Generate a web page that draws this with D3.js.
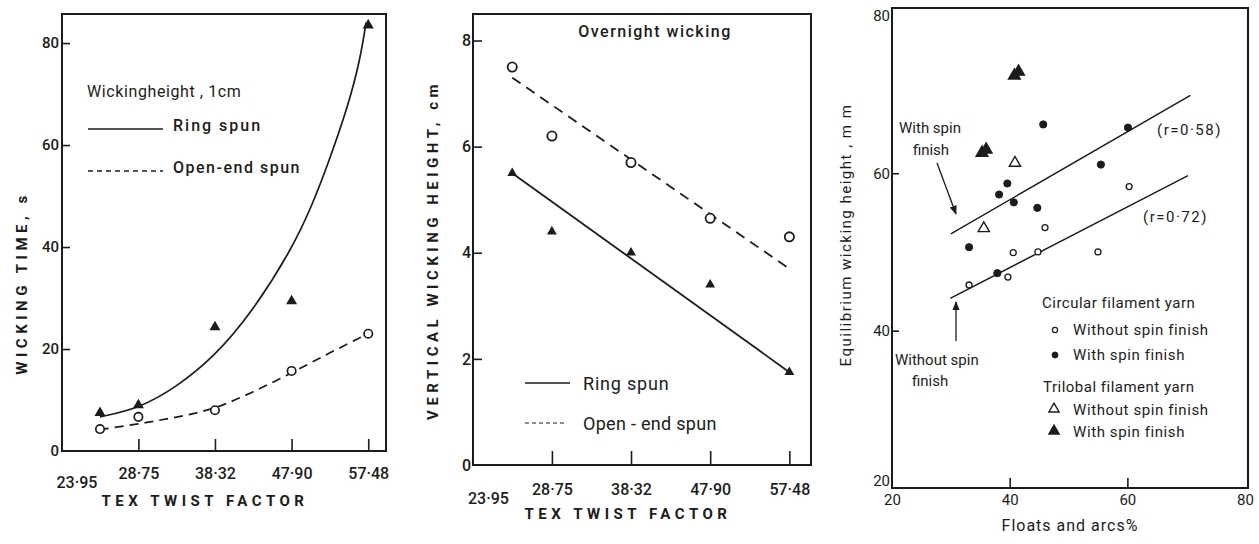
<!DOCTYPE html>
<html>
<head>
<meta charset="utf-8">
<script src="https://cdn.jsdelivr.net/npm/d3@7"></script>
<style>
  body { margin: 0; background: #fff; }
  svg text { font-family: Roboto, "Liberation Sans", sans-serif; fill: #1c1c1c; }
</style>
</head>
<body>
<svg id="chart" width="1259" height="544"></svg>
<script>
// ---- data ----
var twistValues = [23.95, 28.75, 38.32, 47.90, 57.48];
var twistLabels = ["23·95", "28·75", "38·32", "47·90", "57·48"];

// panel 1: wicking time (s) to 1 cm
var timeTicks = [0, 20, 40, 60, 80];
var ringTime = [7.5, 9.0, 24.3, 29.4, 83.5];
var openTime = [4.3, 6.7, 8.0, 15.7, 23.0];
var ringTimeCurveX = [23.95, 28.75, 33.5, 38.32, 43.0, 47.9, 50.5, 52.5, 55.0, 56.5, 57.2];
var ringTimeCurveY = [6.7, 8.3, 12.5, 18.6, 27.3, 39.5, 48.3, 56.5, 67.8, 77.0, 84.0];
var openTimeCurveX = [23.95, 28.75, 33.5, 38.32, 43.0, 47.9, 52.7, 57.48];
var openTimeCurveY = [4.2, 5.3, 6.6, 8.2, 11.5, 15.3, 19.3, 23.0];

// panel 2: overnight vertical wicking height (cm)
var heightTicks = [0, 2, 4, 6, 8];
var ringHeight = [5.5, 4.4, 4.0, 3.4, 1.75];
var openHeight = [7.5, 6.2, 5.7, 4.65, 4.3];
var fitX = [23.95, 57.48];
var ringFitY = [5.5, 1.75];
var openFitY = [7.3, 3.7];

// panel 3: equilibrium wicking height (mm) vs floats and arcs %
var floatTicks = [20, 40, 60, 80];
var eqTicks = [20, 40, 60, 80];
var circWithoutX = [33.1, 39.7, 40.6, 44.8, 46.0, 55.0, 60.3];
var circWithoutY = [45.8, 46.8, 49.9, 50.0, 53.1, 50.0, 58.3];
var circWithX = [33.1, 37.9, 38.2, 39.6, 40.7, 44.7, 45.7, 55.5, 60.1];
var circWithY = [50.6, 47.3, 57.3, 58.7, 56.3, 55.6, 66.2, 61.1, 65.8];
var triWithoutX = [35.6, 40.9];
var triWithoutY = [53.0, 61.3];
var triWithX = [35.3, 36.0, 40.8, 41.5];
var triWithY = [62.6, 63.0, 72.4, 72.9];
var withFitX = [30.0, 70.7];
var withFitY = [52.3, 69.9];
var withoutFitX = [29.9, 70.3];
var withoutFitY = [44.1, 59.7];

var ink = "#1c1c1c";
var svg = d3.select("#chart");
svg.append("rect").attr("width", 1259).attr("height", 544).attr("fill", "#fff");

function zip(xs, ys) { return xs.map(function(x, i) { return [x, ys[i]]; }); }

function frame(g, x, y) {
  g.append("rect")
    .attr("x", x.range()[0]).attr("y", y.range()[1])
    .attr("width", x.range()[1] - x.range()[0])
    .attr("height", y.range()[0] - y.range()[1])
    .attr("fill", "none").attr("stroke", ink).attr("stroke-width", 2);
}

function styleAxis(a, size) {
  a.select(".domain").remove();
  a.selectAll("line").attr("stroke", ink).attr("stroke-width", 1.6);
  a.selectAll("text").attr("font-size", size).attr("fill", ink).attr("font-family", null);
}

function tri(g, pts, x, y, size, filled) {
  g.selectAll(null).data(pts).enter().append("path")
    .attr("d", d3.symbol(d3.symbolTriangle, size))
    .attr("transform", function(d) { return "translate(" + x(d[0]) + "," + y(d[1]) + ")"; })
    .attr("fill", filled ? ink : "#fff").attr("stroke", ink).attr("stroke-width", 1.4);
}

function circ(g, pts, x, y, r, filled, sw) {
  g.selectAll(null).data(pts).enter().append("circle")
    .attr("cx", function(d) { return x(d[0]); })
    .attr("cy", function(d) { return y(d[1]); })
    .attr("r", r)
    .attr("fill", filled ? ink : "#fff").attr("stroke", ink).attr("stroke-width", sw);
}

// twist-factor x axis shared by panels 1 and 2
function twistAxis(g, x, y, tickLen) {
  var ax = g.append("g").attr("transform", "translate(0," + y.range()[0] + ")")
    .call(d3.axisBottom(x).tickValues(twistValues.slice(1)).tickSize(-tickLen).tickPadding(tickLen + 5)
      .tickFormat(function(d) { return twistLabels[twistValues.indexOf(d)]; }));
  styleAxis(ax, 16);
  ax.selectAll("text").attr("font-weight", 500);
  // first label sits left of its value, with no tick
  var step = x(twistValues[1]) - x(twistValues[0]);
  g.append("text")
    .attr("x", x(twistValues[0]) - 0.6 * step)
    .attr("y", y.range()[0] + tickLen + 5 + 9).attr("dy", "0.71em")
    .attr("text-anchor", "middle").attr("font-size", 16).attr("font-weight", 500)
    .text(twistLabels[0]);
}

function spacedLabel(g, txt, x, y, size, rotate) {
  g.append("text")
    .attr("transform", "translate(" + x + "," + y + ")" + (rotate ? " rotate(-90)" : ""))
    .attr("text-anchor", "middle").attr("font-size", size).attr("font-weight", 700)
    .attr("letter-spacing", 4.5).text(txt);
}

// ---------------- panel 1 ----------------
(function() {
  var g = svg.append("g");
  var x = d3.scaleLinear().domain([19.2, 59.7]).range([62, 386]);
  var y = d3.scaleLinear().domain([0, 85.7]).range([451, 14]);
  frame(g, x, y);

  var ay = g.append("g").attr("transform", "translate(" + x.range()[0] + ",0)")
    .call(d3.axisLeft(y).tickValues(timeTicks).tickSize(-8).tickPadding(3));
  styleAxis(ay, 15);
  ay.selectAll("text").attr("font-weight", 500);
  ay.selectAll(".tick").filter(function(d) { return d === 0; }).select("line").remove();
  twistAxis(g, x, y, 12);

  var line = d3.line().x(function(d) { return x(d[0]); }).y(function(d) { return y(d[1]); })
    .curve(d3.curveBasis);
  g.append("path").attr("d", line(zip(ringTimeCurveX, ringTimeCurveY)))
    .attr("fill", "none").attr("stroke", ink).attr("stroke-width", 1.7);
  g.append("path").attr("d", line(zip(openTimeCurveX, openTimeCurveY)))
    .attr("fill", "none").attr("stroke", ink).attr("stroke-width", 1.7).attr("stroke-dasharray", "9,6");

  tri(g, zip(twistValues, ringTime), x, y, 32, true);
  circ(g, zip(twistValues, openTime), x, y, 4.2, false, 1.7);

  // legend
  g.append("text").attr("x", 87).attr("y", 97).attr("font-size", 16).attr("letter-spacing", 0.6)
    .text("Wickingheight , 1cm");
  g.append("line").attr("x1", 88).attr("x2", 163).attr("y1", 129).attr("y2", 129)
    .attr("stroke", ink).attr("stroke-width", 1.6);
  g.append("text").attr("x", 173).attr("y", 131).attr("font-size", 16).attr("font-weight", 500)
    .attr("letter-spacing", 2).text("Ring  spun");
  g.append("line").attr("x1", 88).attr("x2", 163).attr("y1", 171).attr("y2", 171)
    .attr("stroke", ink).attr("stroke-width", 1.6).attr("stroke-dasharray", "5,4");
  g.append("text").attr("x", 173).attr("y", 173).attr("font-size", 16).attr("font-weight", 500)
    .attr("letter-spacing", 1.5).text("Open-end spun");

  spacedLabel(g, "WICKING  TIME, s", 27, 283, 15, true);
  spacedLabel(g, "TEX  TWIST  FACTOR", 205, 506, 15, false);
})();

// ---------------- panel 2 ----------------
(function() {
  var g = svg.append("g");
  var x = d3.scaleLinear().domain([19.2, 60.1]).range([473, 811]);
  var y = d3.scaleLinear().domain([0, 8.5]).range([465, 14]);
  frame(g, x, y);

  var ay = g.append("g").attr("transform", "translate(" + x.range()[0] + ",0)")
    .call(d3.axisLeft(y).tickValues(heightTicks).tickSize(-9).tickPadding(2));
  styleAxis(ay, 16);
  ay.selectAll("text").attr("font-weight", 500);
  ay.selectAll(".tick").filter(function(d) { return d === 0; }).select("line").remove();
  twistAxis(g, x, y, 14);

  var line = d3.line().x(function(d) { return x(d[0]); }).y(function(d) { return y(d[1]); });
  g.append("path").attr("d", line(zip(fitX, ringFitY)))
    .attr("fill", "none").attr("stroke", ink).attr("stroke-width", 1.8);
  g.append("path").attr("d", line(zip(fitX, openFitY)))
    .attr("fill", "none").attr("stroke", ink).attr("stroke-width", 1.8).attr("stroke-dasharray", "10,7");

  tri(g, zip(twistValues, ringHeight), x, y, 24, true);
  circ(g, zip(twistValues, openHeight), x, y, 4.6, false, 1.8);

  g.append("text").attr("x", 655).attr("y", 37).attr("text-anchor", "middle")
    .attr("font-size", 16).attr("font-weight", 500).attr("letter-spacing", 1.5).text("Overnight  wicking");

  g.append("line").attr("x1", 525).attr("x2", 570).attr("y1", 383).attr("y2", 383)
    .attr("stroke", ink).attr("stroke-width", 1.6);
  g.append("text").attr("x", 583).attr("y", 390).attr("font-size", 18).attr("letter-spacing", 0.8).text("Ring  spun");
  g.append("line").attr("x1", 525).attr("x2", 566).attr("y1", 423).attr("y2", 423)
    .attr("stroke", ink).attr("stroke-width", 1.2).attr("stroke-dasharray", "4,3");
  g.append("text").attr("x", 583).attr("y", 430).attr("font-size", 18).attr("letter-spacing", 0.3).text("Open - end spun");

  spacedLabel(g, "VERTICAL  WICKING  HEIGHT, cm", 438, 250, 15, true);
  spacedLabel(g, "TEX  TWIST  FACTOR", 628, 519, 15, false);
})();

// ---------------- panel 3 ----------------
(function() {
  var g = svg.append("g");
  var x = d3.scaleLinear().domain([20, 80.5]).range([892, 1248]);
  var y = d3.scaleLinear().domain([20, 81]).range([488, 8]);
  frame(g, x, y);

  var ay = g.append("g").attr("transform", "translate(" + x.range()[0] + ",0)")
    .call(d3.axisLeft(y).tickValues(eqTicks).tickSize(-7).tickPadding(2));
  styleAxis(ay, 15);
  ay.selectAll(".tick").filter(function(d) { return d === 20 || d === 80; }).select("line").remove();
  // corner label sits a little above the x labels
  ay.selectAll(".tick").filter(function(d) { return d === 20; }).select("text").attr("dy", "-0.15em");
  var ax = g.append("g").attr("transform", "translate(0," + y.range()[0] + ")")
    .call(d3.axisBottom(x).tickValues(floatTicks).tickSize(-10).tickPadding(6));
  styleAxis(ax, 15);
  ax.selectAll(".tick").filter(function(d) { return d === 20 || d === 80; }).select("line").remove();

  var line = d3.line().x(function(d) { return x(d[0]); }).y(function(d) { return y(d[1]); });
  g.append("path").attr("d", line(zip(withFitX, withFitY)))
    .attr("fill", "none").attr("stroke", ink).attr("stroke-width", 1.5);
  g.append("path").attr("d", line(zip(withoutFitX, withoutFitY)))
    .attr("fill", "none").attr("stroke", ink).attr("stroke-width", 1.5);

  circ(g, zip(circWithoutX, circWithoutY), x, y, 3, false, 1.3);
  circ(g, zip(circWithX, circWithY), x, y, 3.6, true, 1);
  tri(g, zip(triWithoutX, triWithoutY), x, y, 55, false);
  tri(g, zip(triWithX, triWithY), x, y, 60, true);

  // annotations
  var defs = svg.append("defs");
  defs.append("marker").attr("id", "arr").attr("viewBox", "0 0 10 10").attr("refX", 9).attr("refY", 5)
    .attr("markerWidth", 7).attr("markerHeight", 7).attr("orient", "auto")
    .append("path").attr("d", "M0,1 L10,5 L0,9 Z").attr("fill", ink);

  var fs = 15;
  g.append("text").attr("x", 930).attr("y", 133).attr("text-anchor", "middle").attr("font-size", fs).text("With spin");
  g.append("text").attr("x", 931).attr("y", 155).attr("text-anchor", "middle").attr("font-size", fs).text("finish");
  g.append("line").attr("x1", 937).attr("y1", 163).attr("x2", 956).attr("y2", 214)
    .attr("stroke", ink).attr("stroke-width", 1.3).attr("marker-end", "url(#arr)");

  g.append("text").attr("x", 895).attr("y", 365).attr("font-size", fs).text("Without spin");
  g.append("text").attr("x", 912).attr("y", 386).attr("font-size", fs).text("finish");
  g.append("line").attr("x1", 956).attr("y1", 341).attr("x2", 956).attr("y2", 302)
    .attr("stroke", ink).attr("stroke-width", 1.3).attr("marker-end", "url(#arr)");

  g.append("text").attr("x", 1157).attr("y", 135).attr("font-size", fs).attr("letter-spacing", 1.5).text("(r=0·58)");
  g.append("text").attr("x", 1143).attr("y", 222).attr("font-size", fs).attr("letter-spacing", 1.5).text("(r=0·72)");

  // legend
  g.append("text").attr("x", 1042).attr("y", 308).attr("font-size", fs).attr("letter-spacing", 0.5).text("Circular filament yarn");
  circ(g, [[0, 0]], function() { return 1055; }, function() { return 330; }, 2.6, false, 1.2);
  g.append("text").attr("x", 1073).attr("y", 335).attr("font-size", fs).attr("letter-spacing", 0.6).text("Without spin finish");
  circ(g, [[0, 0]], function() { return 1055; }, function() { return 355; }, 3, true, 1);
  g.append("text").attr("x", 1073).attr("y", 360).attr("font-size", fs).attr("letter-spacing", 0.6).text("With spin finish");
  g.append("text").attr("x", 1043).attr("y", 392).attr("font-size", fs).attr("letter-spacing", 0.5).text("Trilobal filament yarn");
  tri(g, [[0, 0]], function() { return 1054; }, function() { return 409; }, 45, false);
  g.append("text").attr("x", 1073).attr("y", 415).attr("font-size", fs).attr("letter-spacing", 0.6).text("Without spin finish");
  tri(g, [[0, 0]], function() { return 1054; }, function() { return 431; }, 45, true);
  g.append("text").attr("x", 1073).attr("y", 437).attr("font-size", fs).attr("letter-spacing", 0.6).text("With spin finish");

  g.append("text").attr("transform", "translate(851,235) rotate(-90)").attr("text-anchor", "middle")
    .attr("font-size", 15).attr("letter-spacing", 1.5).text("Equilibrium wicking height , m m");
  g.append("text").attr("x", 1070).attr("y", 531).attr("text-anchor", "middle")
    .attr("font-size", 16).attr("letter-spacing", 1).text("Floats and arcs%");
})();
</script>
</body>
</html>
